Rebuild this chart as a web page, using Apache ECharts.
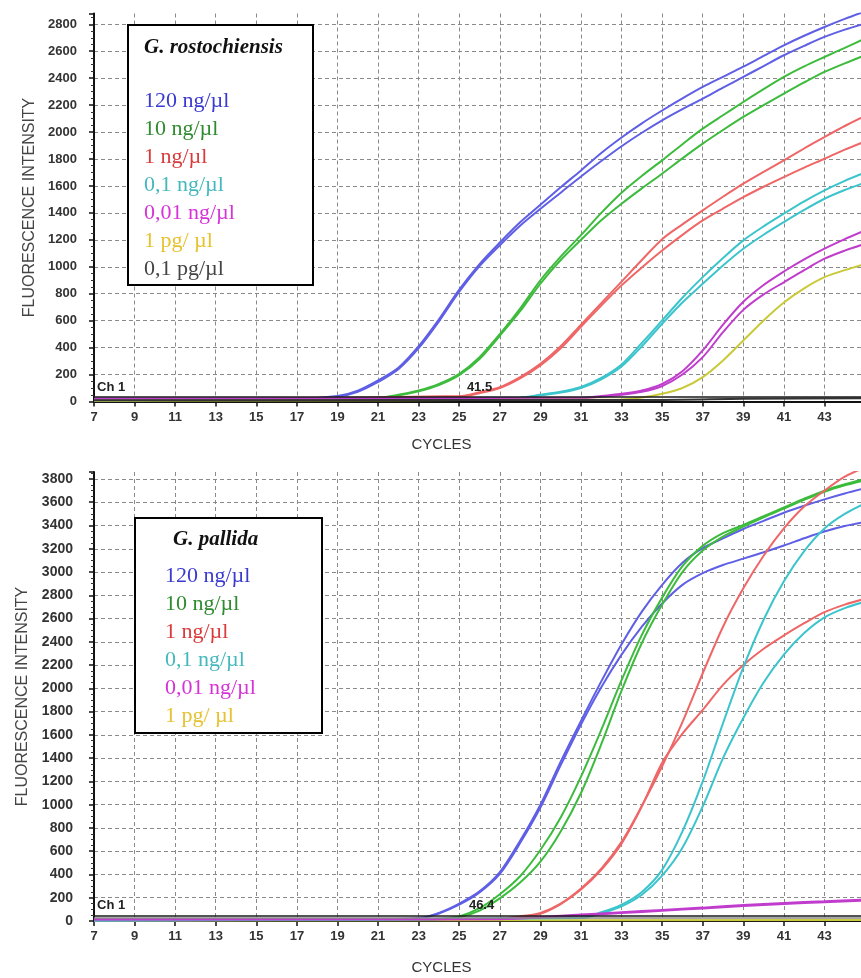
<!DOCTYPE html>
<html>
<head>
<meta charset="utf-8">
<title>qPCR amplification curves</title>
<script src="https://cdn.jsdelivr.net/npm/echarts@6/dist/echarts.min.js"></script>
<style>
  html, body { margin: 0; padding: 0; background: #fff; }
  #main { width: 861px; height: 978px; }
</style>
</head>
<body>
<div id="main"></div>
<script>
// dilutions listed in the two boxes
const concRo = ['120 ng/µl', '10 ng/µl', '1 ng/µl', '0,1 ng/µl', '0,01 ng/µl', '1 pg/ µl', '0,1 pg/µl']
const concPa = ['120 ng/µl', '10 ng/µl', '1 ng/µl', '0,1 ng/µl', '0,01 ng/µl', '1 pg/ µl']

// G. rostochiensis, two replicates per dilution, [cycle, fluorescence]
const roBlue1 = [[7,18],[17,20],[19,40],[20,80],[21,156],[22,250],[23,410],[24,610],[25,830],[26,1020],[27,1180],[28,1330],[29,1460],[30,1590],[31,1715],[32,1845],[33,1960],[34,2065],[35,2160],[36,2250],[37,2335],[38,2410],[39,2485],[40,2565],[41,2644],[42,2715],[43,2780],[44,2840],[45,2895]]
const roBlue2 = [[7,15],[17,18],[19,35],[20,72],[21,145],[22,240],[23,396],[24,595],[25,815],[26,1005],[27,1160],[28,1305],[29,1430],[30,1550],[31,1670],[32,1785],[33,1895],[34,1995],[35,2087],[36,2170],[37,2248],[38,2330],[39,2409],[40,2490],[41,2570],[42,2640],[43,2706],[44,2760],[45,2805]]
const roGreen1 = [[7,10],[21,30],[22,50],[23,82],[24,131],[25,206],[26,329],[27,500],[28,690],[29,900],[30,1075],[31,1235],[32,1400],[33,1550],[34,1675],[35,1790],[36,1910],[37,2025],[38,2125],[39,2223],[40,2318],[41,2409],[42,2487],[43,2557],[44,2625],[45,2695]]
const roGreen2 = [[7,10],[21,28],[22,45],[23,75],[24,122],[25,195],[26,315],[27,488],[28,670],[29,875],[30,1050],[31,1200],[32,1345],[33,1468],[34,1582],[35,1691],[36,1805],[37,1914],[38,2015],[39,2112],[40,2200],[41,2285],[42,2368],[43,2446],[44,2510],[45,2570]]
const roRed1 = [[7,8],[25,40],[26,69],[27,106],[28,181],[29,280],[30,410],[31,570],[32,730],[33,890],[34,1050],[35,1205],[36,1315],[37,1419],[38,1520],[39,1617],[40,1705],[41,1790],[42,1878],[43,1963],[44,2045],[45,2120]]
const roRed2 = [[7,8],[25,36],[26,62],[27,100],[28,172],[29,268],[30,395],[31,555],[32,712],[33,862],[34,995],[35,1121],[36,1237],[37,1344],[38,1432],[39,1517],[40,1594],[41,1666],[42,1736],[43,1802],[44,1870],[45,1930]]
const roCyan1 = [[7,8],[28,30],[29,50],[30,72],[31,108],[32,175],[33,275],[34,435],[35,602],[36,770],[37,923],[38,1065],[39,1196],[40,1300],[41,1394],[42,1485],[43,1567],[44,1638],[45,1700]]
const roCyan2 = [[7,8],[28,28],[29,46],[30,66],[31,100],[32,165],[33,260],[34,410],[35,577],[36,735],[37,874],[38,1010],[39,1134],[40,1238],[41,1332],[42,1422],[43,1505],[44,1570],[45,1625]]
const roMag1 = [[7,22],[31,28],[32,40],[33,57],[34,82],[35,131],[36,225],[37,379],[38,570],[39,740],[40,865],[41,965],[42,1055],[43,1134],[44,1205],[45,1270]]
const roMag2 = [[7,20],[31,25],[32,35],[33,50],[34,72],[35,115],[36,200],[37,329],[38,515],[39,680],[40,795],[41,885],[42,975],[43,1060],[44,1120],[45,1170]]
const roYellow = [[7,5],[33,15],[34,30],[35,57],[36,100],[37,181],[38,305],[39,453],[40,602],[41,735],[42,840],[43,923],[44,975],[45,1020]]
const roGray = [[7,10],[35,12],[39,20],[45,25]]

// G. pallida
const paBlue1 = [[7,10],[21,15],[23,25],[24,70],[25,150],[26,255],[27,420],[28,690],[29,1000],[30,1370],[31,1720],[32,2060],[33,2380],[34,2660],[35,2890],[36,3080],[37,3205],[38,3290],[39,3370],[40,3440],[41,3510],[42,3570],[43,3625],[44,3675],[45,3720]]
const paBlue2 = [[7,10],[21,15],[23,22],[24,65],[25,140],[26,245],[27,405],[28,670],[29,975],[30,1340],[31,1690],[32,2010],[33,2290],[34,2530],[35,2730],[36,2890],[37,2990],[38,3060],[39,3115],[40,3170],[41,3228],[42,3290],[43,3348],[44,3395],[45,3430]]
const paGreen1 = [[7,8],[23,12],[24,20],[25,40],[26,110],[27,230],[28,385],[29,610],[30,890],[31,1241],[32,1643],[33,2070],[34,2460],[35,2780],[36,3050],[37,3225],[38,3334],[39,3405],[40,3480],[41,3555],[42,3630],[43,3700],[44,3755],[45,3800]]
const paGreen2 = [[7,8],[23,10],[24,16],[25,32],[26,90],[27,195],[28,330],[29,510],[30,770],[31,1100],[32,1520],[33,1980],[34,2390],[35,2720],[36,3000],[37,3185],[38,3305],[39,3390],[40,3470],[41,3545],[42,3620],[43,3690],[44,3745],[45,3790]]
const paRed1 = [[7,5],[27,20],[28,40],[29,70],[30,150],[31,280],[32,450],[33,680],[34,990],[35,1330],[36,1710],[37,2130],[38,2530],[39,2860],[40,3140],[41,3375],[42,3563],[43,3700],[44,3820],[45,3900]]
const paRed2 = [[7,5],[27,18],[28,36],[29,62],[30,145],[31,270],[32,440],[33,665],[34,985],[35,1360],[36,1610],[37,1815],[38,2030],[39,2200],[40,2340],[41,2455],[42,2560],[43,2655],[44,2720],[45,2770]]
const paCyan1 = [[7,5],[31,30],[32,75],[33,140],[34,250],[35,440],[36,770],[37,1200],[38,1700],[39,2180],[40,2590],[41,2920],[42,3180],[43,3375],[44,3500],[45,3590]]
const paCyan2 = [[7,5],[31,25],[32,65],[33,125],[34,225],[35,390],[36,630],[37,985],[38,1400],[39,1745],[40,2050],[41,2290],[42,2475],[43,2610],[44,2690],[45,2745]]
const paMag1 = [[7,15],[27,20],[29,35],[31,55],[33,75],[35,95],[37,115],[39,138],[41,155],[43,170],[45,185]]
const paMag2 = [[7,12],[27,16],[29,30],[31,48],[33,68],[35,88],[37,108],[39,128],[41,147],[43,162],[45,176]]
const paYellow = [[7,5],[45,8]]

// threshold lines and their value labels
const roThreshold = 37, roThresholdText = '41.5', roThresholdAt = 26.0
const paThreshold = 48, paThreshold2 = 26, paThresholdText = '46.4', paThresholdAt = 26.1

// visible cycle range (the picture is cut just before cycle 45)
const cycleMin = 7, cycleMax = 44.8

const lineColors = ['#5f5fe6', '#3dbb3d', '#ef6666', '#3cc4cc', '#c03ccd', '#c9c93a', '#333333']
const textColors = ['#3a3ad0', '#2e8b2e', '#d93b3b', '#45b8bd', '#d633d6', '#e6c22e', '#444444']

const curve = (name, data, color, g) => ({
  name: name,
  type: 'line',
  xAxisIndex: g,
  yAxisIndex: g,
  data: data,
  smooth: 0.3,
  showSymbol: false,
  silent: true,
  lineStyle: { width: 2, color: color },
  itemStyle: { color: color }
})

const lbl = { fontFamily: 'Liberation Sans', fontWeight: 'bold', fontSize: 13, color: '#222' }

const threshold = (g, lines, text, at) => ({
  type: 'line',
  xAxisIndex: g,
  yAxisIndex: g,
  data: [],
  silent: true,
  markLine: {
    symbol: 'none',
    silent: true,
    data: lines.map((v, i) => ({
      yAxis: v,
      lineStyle: { color: i === 0 ? '#1a1a1a' : '#8a8a8a', width: 1.5, type: 'solid' },
      label: i === 0
        ? Object.assign({ show: true, position: 'insideStartTop', formatter: 'Ch 1', distance: 3 }, lbl)
        : { show: false }
    }))
  },
  markPoint: {
    symbol: 'circle',
    symbolSize: 0,
    silent: true,
    label: Object.assign({ show: true, position: 'top', distance: 3, formatter: text }, lbl),
    data: [{ coord: [at, lines[0]] }]
  }
})

const xAxisFor = (g, gap) => ({
  type: 'value',
  gridIndex: g,
  min: cycleMin,
  max: cycleMax,
  interval: 2,
  name: 'CYCLES',
  nameLocation: 'middle',
  nameGap: gap,
  nameTextStyle: { fontFamily: 'Liberation Sans', fontSize: 15, color: '#333', padding: [0, 72, 0, 0] },
  axisLine: { lineStyle: { color: '#111', width: 2 } },
  axisTick: { length: 5, lineStyle: { color: '#111', width: 1.5 } },
  axisLabel: { fontFamily: 'Liberation Sans', fontWeight: 'bold', fontSize: 13, color: '#333', margin: 9, showMaxLabel: false },
  splitLine: { show: true, showMaxLine: false, lineStyle: { color: '#8a8a8a', width: 1, type: [4, 3] } }
})

const yAxisFor = (g, max, fs, margin, gap) => ({
  type: 'value',
  gridIndex: g,
  min: 0,
  max: max,
  interval: 200,
  name: 'FLUORESCENCE INTENSITY',
  nameLocation: 'middle',
  nameGap: gap,
  nameTextStyle: { fontFamily: 'Liberation Sans', fontSize: 16, color: '#444' },
  axisLine: { show: true, lineStyle: { color: '#111', width: 2 } },
  axisTick: { show: true, length: 5, lineStyle: { color: '#111', width: 1.5 } },
  minorTick: { show: true, splitNumber: 4, length: 3, lineStyle: { color: '#333' } },
  axisLabel: { fontFamily: 'Liberation Sans', fontWeight: 'bold', fontSize: fs, color: '#333', margin: margin, showMaxLabel: false, formatter: v => String(v) },
  splitLine: { show: true, showMaxLine: false, lineStyle: { color: '#8a8a8a', width: 1, type: [4, 3] } }
})

const legendFor = (names, left, top) => ({
  data: names.map((n, i) => ({ name: n, textStyle: { color: textColors[i] } })),
  orient: 'vertical',
  left: left,
  top: top,
  padding: 0,
  icon: 'rect',
  itemWidth: 0,
  itemHeight: 20,
  itemGap: 6,
  itemStyle: { opacity: 0 },
  selectedMode: false,
  textStyle: { fontFamily: 'Liberation Serif', fontSize: 22, lineHeight: 20 }
})

const titleFor = (text, left, top) => ({
  text: text,
  left: left,
  top: top,
  padding: 0,
  textStyle: { fontFamily: 'Liberation Serif', fontStyle: 'italic', fontWeight: 'bold', fontSize: 21, color: '#111' }
})

const myChart = echarts.init(document.getElementById('main'), null, { renderer: 'canvas' })

const option = {
  animation: false,
  backgroundColor: '#fff',
  grid: [
    { left: 94, right: 0, top: 13.5, height: 388 },
    { left: 94, right: 0, top: 472, height: 449 }
  ],
  xAxis: [xAxisFor(0, 36), xAxisFor(1, 39)],
  yAxis: [yAxisFor(0, 2880, 13, 17, 54), yAxisFor(1, 3860, 14, 21, 60)],
  title: [titleFor('G. rostochiensis', 144, 37), titleFor('G. pallida', 173, 529)],
  legend: [legendFor(concRo, 139, 90), legendFor(concPa, 160, 565)],
  graphic: [
    { type: 'rect', z: 3, silent: true, shape: { x: 128, y: 25, width: 185, height: 260 }, style: { fill: '#fff', stroke: '#000', lineWidth: 2 } },
    { type: 'rect', z: 3, silent: true, shape: { x: 135, y: 518, width: 187, height: 215 }, style: { fill: '#fff', stroke: '#000', lineWidth: 2 } }
  ],
  series: [
    curve(concRo[0], roBlue1, lineColors[0], 0),
    curve(concRo[0], roBlue2, lineColors[0], 0),
    curve(concRo[1], roGreen1, lineColors[1], 0),
    curve(concRo[1], roGreen2, lineColors[1], 0),
    curve(concRo[2], roRed1, lineColors[2], 0),
    curve(concRo[2], roRed2, lineColors[2], 0),
    curve(concRo[3], roCyan1, lineColors[3], 0),
    curve(concRo[3], roCyan2, lineColors[3], 0),
    curve(concRo[4], roMag1, lineColors[4], 0),
    curve(concRo[4], roMag2, lineColors[4], 0),
    curve(concRo[5], roYellow, lineColors[5], 0),
    curve(concRo[6], roGray, lineColors[6], 0),
    threshold(0, [roThreshold], roThresholdText, roThresholdAt),

    curve(concPa[5], paYellow, lineColors[5], 1),
    curve(concPa[0], paBlue1, lineColors[0], 1),
    curve(concPa[0], paBlue2, lineColors[0], 1),
    curve(concPa[1], paGreen1, lineColors[1], 1),
    curve(concPa[1], paGreen2, lineColors[1], 1),
    curve(concPa[2], paRed1, lineColors[2], 1),
    curve(concPa[2], paRed2, lineColors[2], 1),
    curve(concPa[3], paCyan1, lineColors[3], 1),
    curve(concPa[3], paCyan2, lineColors[3], 1),
    curve(concPa[4], paMag1, lineColors[4], 1),
    curve(concPa[4], paMag2, lineColors[4], 1),
    threshold(1, [paThreshold, paThreshold2], paThresholdText, paThresholdAt)
  ]
}

option && myChart.setOption(option)
</script>
</body>
</html>
